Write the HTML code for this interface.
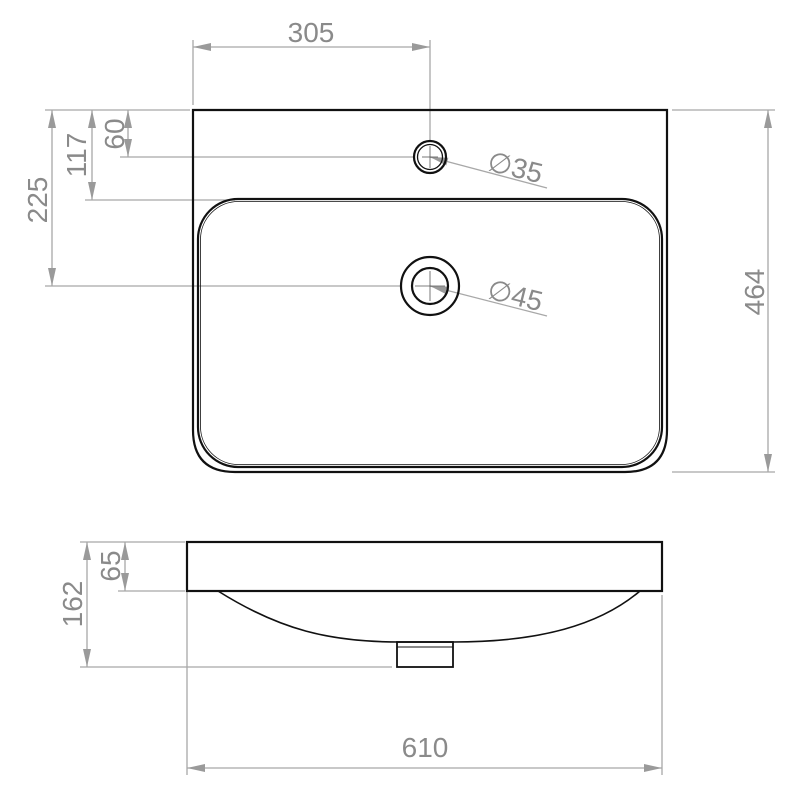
<!DOCTYPE html>
<html><head><meta charset="utf-8"><style>
html,body{margin:0;padding:0;background:#fff;width:800px;height:800px;overflow:hidden}
svg{display:block}
text{font-family:"Liberation Sans","DejaVu Sans",sans-serif;fill:#8a8a8a;font-size:28px}
</style></head><body>
<svg width="800" height="800" viewBox="0 0 800 800" xmlns="http://www.w3.org/2000/svg">
<defs>
<marker id="a" viewBox="0 0 18 8" refX="18" refY="4" markerWidth="18" markerHeight="8" markerUnits="userSpaceOnUse" orient="auto-start-reverse">
<path d="M0,0 L18,4 L0,8 Z" fill="#9a9a9a"/></marker>
</defs>
<g stroke="#a8a8a8" stroke-width="1.3" fill="none">
<line x1="193" y1="40" x2="193" y2="105"/>
<line x1="430" y1="40" x2="430" y2="140"/>
<line x1="45" y1="110" x2="190" y2="110"/>
<line x1="120" y1="157" x2="415" y2="157"/>
<line x1="85" y1="200" x2="235" y2="200"/>
<line x1="45" y1="286" x2="400" y2="286"/>
<line x1="672" y1="110" x2="775" y2="110"/>
<line x1="672" y1="472" x2="775" y2="472"/>
<line x1="193" y1="47" x2="430" y2="47" marker-start="url(#a)" marker-end="url(#a)"/>
<line x1="768" y1="110" x2="768" y2="472" marker-start="url(#a)" marker-end="url(#a)"/>
<line x1="52" y1="110" x2="52" y2="286" marker-start="url(#a)" marker-end="url(#a)"/>
<line x1="92" y1="110" x2="92" y2="200" marker-start="url(#a)" marker-end="url(#a)"/>
<line x1="128" y1="110" x2="128" y2="157" marker-start="url(#a)" marker-end="url(#a)"/>
<line x1="547" y1="188" x2="430" y2="157" marker-end="url(#a)"/>
<line x1="547" y1="316" x2="430" y2="286" marker-end="url(#a)"/>
<line x1="80" y1="542" x2="185" y2="542"/>
<line x1="118" y1="591" x2="185" y2="591"/>
<line x1="80" y1="667" x2="392" y2="667"/>
<line x1="187" y1="545" x2="187" y2="775"/>
<line x1="662" y1="595" x2="662" y2="775"/>
<line x1="87" y1="542" x2="87" y2="667" marker-start="url(#a)" marker-end="url(#a)"/>
<line x1="125" y1="542" x2="125" y2="591" marker-start="url(#a)" marker-end="url(#a)"/>
<line x1="187" y1="768" x2="662" y2="768" marker-start="url(#a)" marker-end="url(#a)"/>
</g>
<g stroke="#111" stroke-width="2.2" fill="none">
<path d="M193,110 H667 V430 Q667,472 625,472 H235 Q193,472 193,430 Z"/>
<rect x="198" y="199" width="464" height="268" rx="40"/>
<rect x="200.5" y="201.5" width="459" height="263" rx="38" stroke-width="0.8"/>
<circle cx="430" cy="157" r="16"/>
<circle cx="430" cy="157" r="12.5" stroke-width="1.3"/>
<circle cx="430" cy="286" r="29"/>
<circle cx="430" cy="286" r="18"/>
<rect x="187" y="542" width="475" height="49"/>
<path d="M218,591 C280,630 330,642 400,642 H453 C540,642 600,625 640,591" stroke-width="1.6"/>
<rect x="397" y="642" width="56" height="25" stroke-width="1.8"/>
<line x1="397" y1="647" x2="453" y2="647" stroke-width="1"/>
</g>
<g stroke="#555" stroke-width="0.8">
<line x1="422" y1="157" x2="438" y2="157"/><line x1="430" y1="146" x2="430" y2="168"/>
<line x1="415" y1="286" x2="445" y2="286"/><line x1="430" y1="271" x2="430" y2="301"/>
</g>
<text x="311" y="42" text-anchor="middle">305</text>
<text transform="translate(764,292) rotate(-90)" text-anchor="middle">464</text>
<text transform="translate(47,200) rotate(-90)" text-anchor="middle">225</text>
<text transform="translate(86,155) rotate(-90)" text-anchor="middle">117</text>
<text transform="translate(124,134) rotate(-90)" text-anchor="middle">60</text>
<text transform="translate(486,170) rotate(14)">∅35</text>
<text transform="translate(486,298) rotate(14)">∅45</text>
<text transform="translate(82,604) rotate(-90)" text-anchor="middle">162</text>
<text transform="translate(120,566) rotate(-90)" text-anchor="middle">65</text>
<text x="425" y="757" text-anchor="middle">610</text>
</svg>
</body></html>
